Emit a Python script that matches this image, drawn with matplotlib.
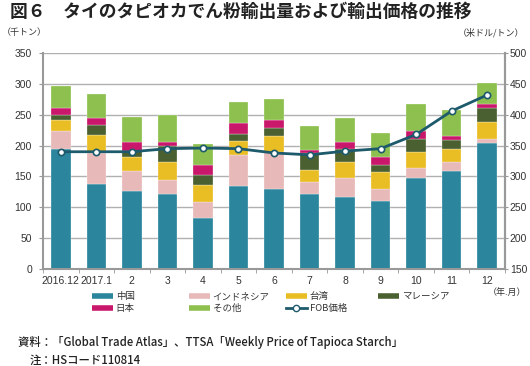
import matplotlib
matplotlib.use("Agg")
import matplotlib.pyplot as plt
import numpy as np
from matplotlib.lines import Line2D

plt.rcParams['font.family'] = ['Noto Sans CJK JP', 'DejaVu Sans']

months = ["2016.12", "2017.1", "2", "3", "4", "5", "6", "7", "8", "9", "10", "11", "12"]

# stacked export volume (thousand tons)
china = [194, 138, 126, 121, 83, 135, 129, 122, 116, 110, 148, 158, 204]
indonesia = [29, 50, 32, 24, 25, 49, 61, 19, 32, 19, 16, 16, 6]
taiwan = [18, 29, 23, 28, 28, 24, 26, 20, 25, 28, 25, 21, 28]
malaysia = [9, 16.5, 11, 26, 17, 11, 12, 27, 22, 12, 21, 14, 23]
japan = [11, 10.5, 13, 6, 16, 18, 14, 5, 11, 12, 14, 7, 7]
other = [36, 40, 42, 44.5, 33, 34, 33, 38, 39, 40, 44, 42, 33]

fob = [340, 340, 340, 345, 346, 345, 338, 335, 341, 345, 368, 406, 432]

series = [
    ("中国", china, "#2b859d"),
    ("インドネシア", indonesia, "#e8b9b9"),
    ("台湾", taiwan, "#e9bd24"),
    ("マレーシア", malaysia, "#4b6030"),
    ("日本", japan, "#c9186b"),
    ("その他", other, "#8dc04e"),
]
line_color = "#1d5a6b"
grid_color = "#b0b0b0"
text_color = "#333333"
num_font = ["Liberation Sans", "DejaVu Sans"]

fig = plt.figure(figsize=(5.30, 3.66), dpi=100)
ax = fig.add_axes([43 / 530, 1 - 269 / 366, 462 / 530, 216 / 366])

x = np.arange(len(months))
bottom = np.zeros(len(months))
handles = []
for name, vals, col in series:
    ax.bar(x, vals, bottom=bottom, width=0.55, color=col, edgecolor="white",
           linewidth=0.2, zorder=2)
    bottom += np.array(vals)
    handles.append(Line2D([], [], color=col, linewidth=4, solid_capstyle="butt", label=name))

ax.set_xlim(-0.5, len(months) - 0.5)
ax.set_ylim(0, 350)
ax.set_yticks(range(0, 351, 50))
ax.yaxis.grid(True, color=grid_color, linewidth=1.0, zorder=0)
ax.set_axisbelow(True)
ax.set_xticks(x)
ax.set_xticklabels(months, family=num_font)
ax.set_xticks(np.arange(-0.5, len(months), 1), minor=True)
ax.tick_params(axis="x", which="major", length=0, pad=5, labelsize=7.5, colors=text_color)
ax.tick_params(axis="x", which="minor", length=3, color="#999999")
ax.tick_params(axis="y", length=3, color="#999999", labelsize=7.5, labelcolor=text_color, pad=5)
for lbl in ax.get_yticklabels():
    lbl.set_family(num_font)
ax.spines["top"].set_visible(False)
for s in ["left", "right", "bottom"]:
    ax.spines[s].set_color("#999999")
    ax.spines[s].set_linewidth(1.5)

ax2 = ax.twinx()
ax2.set_ylim(150, 500)
ax2.set_yticks(range(150, 501, 50))
ax2.plot(x, fob, color=line_color, linewidth=2, marker="o", markersize=4.5,
         markerfacecolor="white", markeredgecolor=line_color, markeredgewidth=1.2, zorder=5)
ax2.tick_params(axis="y", length=2, color="#999999", labelsize=7.5, labelcolor=text_color, pad=1.5)
for lbl in ax2.get_yticklabels():
    lbl.set_family(num_font)
ax2.spines["top"].set_visible(False)
ax2.spines["right"].set_color("#999999")
ax2.spines["right"].set_linewidth(1.5)
ax2.spines["left"].set_visible(False)
ax2.spines["bottom"].set_visible(False)

handles.append(Line2D([], [], color=line_color, linewidth=2, marker="o", markersize=4.5,
                      markerfacecolor="white", markeredgecolor=line_color, label="FOB価格"))

# legend: 4 columns placed at fixed pixel positions
columns = [[handles[0], handles[4]], [handles[1], handles[5]], [handles[2], handles[6]], [handles[3]]]
col_x = [92, 189, 286, 378]
for hs, cx in zip(columns, col_x):
    fig.legend(handles=hs, loc="upper left", bbox_to_anchor=(cx / 530, 1 - 292 / 366),
               frameon=False, fontsize=6.8, handlelength=2.2, handletextpad=0.3,
               labelspacing=0.3, borderaxespad=0, borderpad=0, labelcolor=text_color)

fig.text(10 / 530, 1 - 12 / 366, "図６　タイのタピオカでん粉輸出量および輸出価格の推移",
         fontsize=12.8, fontweight="bold", va="center", ha="left", color="#222222")
fig.text(2 / 530, 1 - 33 / 366, "（千トン）", fontsize=6.5, va="center", color=text_color)
fig.text(524 / 530, 1 - 33 / 366, "（米ドル/トン）", fontsize=6.5, va="center", ha="right", color=text_color)
fig.text(526 / 530, 1 - 292 / 366, "（年.月）", fontsize=6.5, va="center", ha="right", color=text_color)
fig.text(18 / 530, 1 - 342 / 366,
         "資料：「Global Trade Atlas」、TTSA「Weekly Price of Tapioca Starch」",
         fontsize=8.2, fontweight="medium", va="center", color="#222222")
fig.text(30 / 530, 1 - 360 / 366, "注：HSコード110814", fontsize=8.2, fontweight="medium",
         va="center", color="#222222")

fig.savefig("out.png", dpi=100)
